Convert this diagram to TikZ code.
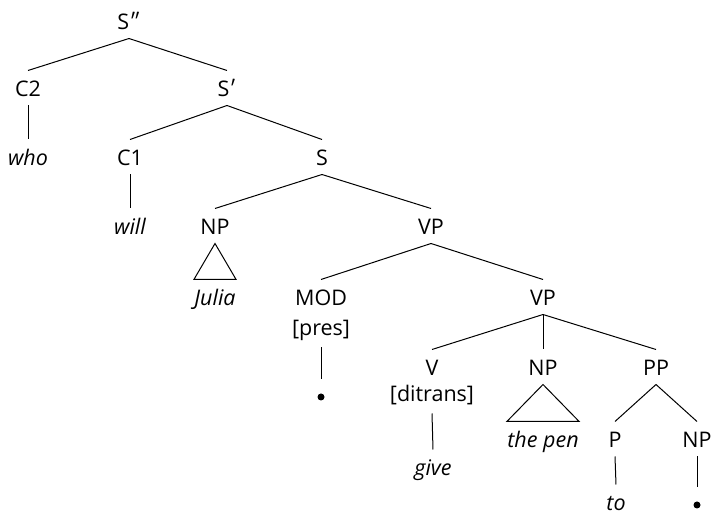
\documentclass[tikz,border=0pt]{standalone}
\usepackage{fontspec}
\setsansfont{Open Sans}
\newfontfamily\primefont{Lato}

\begin{document}
\begin{tikzpicture}[x=1pt,y=-1pt,line width=1pt,font=\fontsize{21.5}{25}\selectfont\sffamily]
  \tikzset{
    cat/.style={anchor=base,inner sep=0pt,text height=26pt,text depth=8pt},
    feat/.style={cat,text depth=11pt},
    wd/.style={cat,text depth=4pt,font=\fontsize{21.5}{25}\selectfont\sffamily\itshape},
    dot/.style={circle,fill,inner sep=0pt,minimum size=7pt,outer sep=14pt}
  }
  \useasboundingbox (0,0) rectangle (716,518);
  % ---------------- labels and words ----------------
  \foreach \n/\x/\y/\s/\t in {sdd/129/30/cat/S{\primefont″},
      ctwo/28/97/cat/C2, sp/227/97/cat/S{\primefont′},
      who/28/166/wd/who, cone/130/166/cat/C1, s/322/166/cat/S,
      will/130/235/wd/will, npa/215/235/cat/NP, vpa/431/235/cat/VP,
      jul/215/306/wd/Julia, mod/321/306/cat/MOD, pres/321/336/feat/[pres], vpb/543/306/cat/VP,
      v/432/376/cat/V, ditr/432/402/feat/[ditrans], npb/543/376/cat/NP, pp/656/376/cat/PP,
      give/433/476/wd/give, pen/543/448/wd/the pen, p/615/448/cat/P, npc/697/448/cat/NP,
      to/616/511/wd/to}{
    \node[\s] (\n) at (\x,\y) {\t};
  }
  \node[dot] (dota) at (321,397) {};
  \node[dot] (dotb) at (697,505) {};
  % ---------------- branches ----------------
  \foreach \a/\b in {sdd/ctwo,sdd/sp,ctwo/who,sp/cone,sp/s,cone/will,s/npa,s/vpa,
      vpa/mod,vpa/vpb,pres/dota,vpb/v,vpb/npb,vpb/pp,ditr/give,pp/p,pp/npc,p/to,npc/dotb}
    \draw (\a.south) -- (\b.north);
  % triangles
  \foreach \a/\b in {npa/jul,npb/pen}
    \draw (\a.south) -- (\b.north west) -- (\b.north east) -- cycle;
\end{tikzpicture}
\end{document}
